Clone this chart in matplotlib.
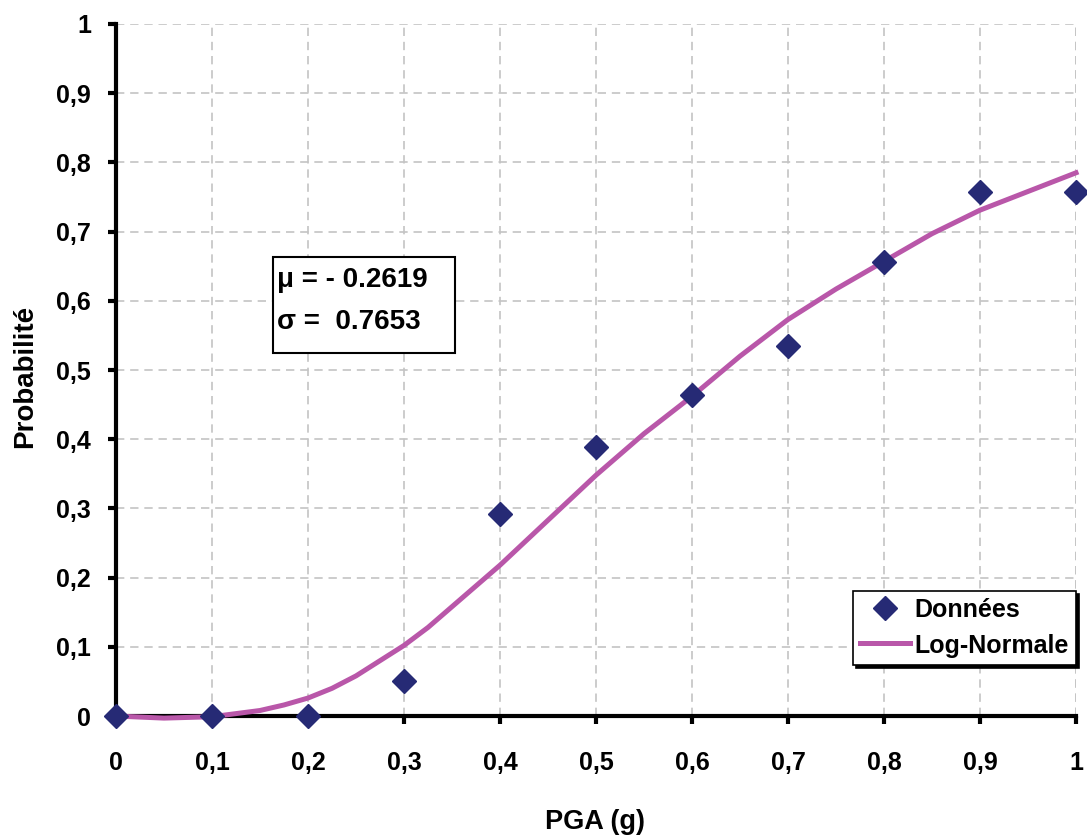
import matplotlib.pyplot as plt
from matplotlib.patches import Rectangle

plt.rcParams['font.family'] = ['Liberation Sans', 'DejaVu Sans']
plt.rcParams['font.weight'] = 'bold'

# observed damage probabilities
pga = [0, 0.1, 0.2, 0.3, 0.4, 0.5, 0.6, 0.7, 0.8, 0.9, 1.0]
prob = [0, 0, 0, 0.05, 0.292, 0.389, 0.464, 0.535, 0.656, 0.757, 0.757]

# fitted log-normal fragility curve
fit_x = [0, 0.05, 0.1, 0.15, 0.175, 0.2, 0.225, 0.25, 0.3, 0.325, 0.35, 0.4,
         0.45, 0.5, 0.55, 0.6, 0.65, 0.7, 0.75, 0.8, 0.85, 0.9, 0.95, 1.0]
fit_y = [0, -0.003, -0.001, 0.008, 0.016, 0.026, 0.040, 0.058, 0.102, 0.128,
         0.158, 0.218, 0.283, 0.348, 0.408, 0.462, 0.52, 0.573, 0.617, 0.657,
         0.697, 0.731, 0.758, 0.785]

xticks = [0, 0.1, 0.2, 0.3, 0.4, 0.5, 0.6, 0.7, 0.8, 0.9, 1.0]
xlabels = ['0', '0,1', '0,2', '0,3', '0,4', '0,5', '0,6', '0,7', '0,8', '0,9', '1']
yticks = xticks
ylabels = xlabels

fig = plt.figure(figsize=(10.87, 8.36), dpi=100)
ax = fig.add_axes([0.1067, 0.1435, 0.8832, 0.8278])

ax.plot(fit_x, fit_y, color='#b957a9', lw=3.6, label='Log-Normale', zorder=3,
        clip_on=False)
ax.plot(pga, prob, ls='none', marker='D', ms=12.5, color='#262a75',
        label='Données', zorder=4, clip_on=False)

ax.set_xlim(0, 1)
ax.set_ylim(0, 1)
ax.set_xticks(xticks)
ax.set_xticklabels(xlabels)
ax.set_yticks(yticks)
ax.set_yticklabels(ylabels)
ax.tick_params(direction='out', length=6, width=3, labelsize=18)
ax.tick_params(axis='x', pad=19)
ax.tick_params(axis='y', pad=12)

ax.grid(True, color='#c4c4c4', ls=(0, (5, 3.5)), lw=1.2)
ax.set_axisbelow(True)
for s in ['top', 'right']:
    ax.spines[s].set_visible(False)
for s in ['left', 'bottom']:
    ax.spines[s].set_linewidth(3)
# dashed frame line on the right edge
ax.axvline(1.0, color='#c4c4c4', ls=(0, (5, 3.5)), lw=1.2, zorder=0)

ax.set_xlabel('PGA (g)', fontsize=19.5, fontweight='bold')
ax.set_ylabel('Probabilité', fontsize=20, fontweight='bold')
ax.xaxis.label.set_va('center')
ax.yaxis.label.set_va('center')
ax.xaxis.set_label_coords(0.499, -0.153)
ax.yaxis.set_label_coords(-0.0948, 0.491)

# parameter box
ax.add_patch(Rectangle((0.1635, 0.5246), 0.19, 0.139, transform=ax.transData,
                       facecolor='white', edgecolor='black', lw=1.5, zorder=5))
ax.text(0.168, 0.630, 'μ = - 0.2619', fontsize=20, fontweight='bold',
        va='center', ha='left', zorder=6)
ax.text(0.168, 0.569, 'σ =  0.7653', fontsize=20, fontweight='bold',
        va='center', ha='left', zorder=6)

handles, labels = ax.get_legend_handles_labels()
leg = ax.legend(handles[::-1], labels[::-1], loc='lower right',
                bbox_to_anchor=(1.0, 0.0737), borderaxespad=0,
                prop=dict(weight='bold', size=18), fancybox=False,
                framealpha=1, edgecolor='black', handlelength=2.0,
                handletextpad=0.15, borderpad=0.3,
                labelspacing=0.45, handleheight=0.9,
                shadow={'color': 'black', 'alpha': 1})
leg.get_frame().set_linewidth(1.2)

fig.savefig('out.png', dpi=100)
